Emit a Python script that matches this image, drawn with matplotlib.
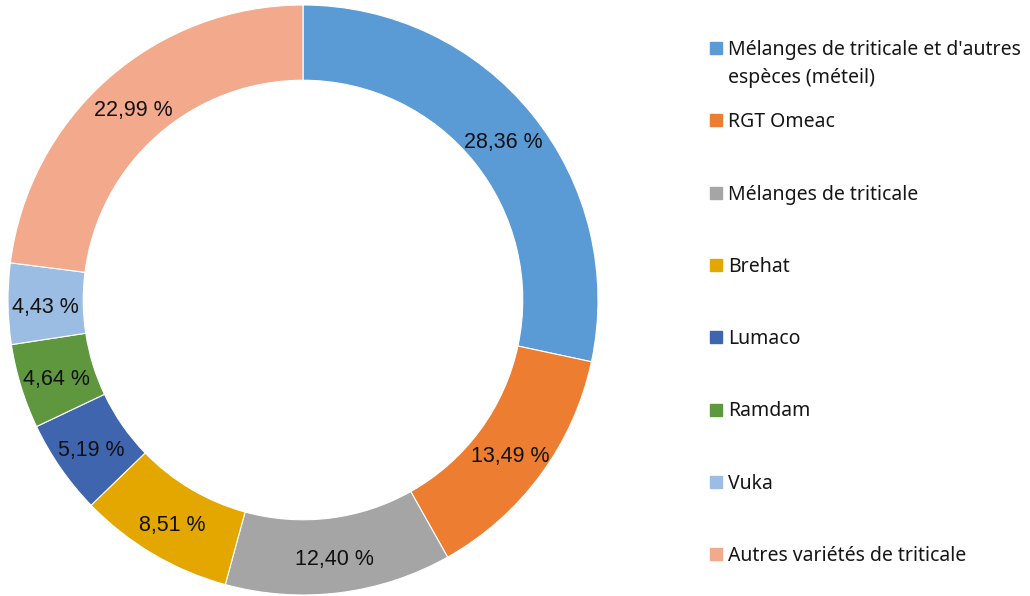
import numpy as np
import matplotlib
matplotlib.use("Agg")
import matplotlib.pyplot as plt
from matplotlib.patches import Rectangle
from matplotlib.transforms import offset_copy

# Donnees
categories = ["Mélanges de triticale et d'autres\nespèces (méteil)", "RGT Omeac",
              "Mélanges de triticale", "Brehat", "Lumaco", "Ramdam", "Vuka",
              "Autres variétés de triticale"]
values = [28.36, 13.49, 12.40, 8.51, 5.19, 4.64, 4.43, 22.99]
colors = ["#5B9BD5", "#ED7D31", "#A5A5A5", "#E3A700", "#3F65AE",
          "#5F973E", "#9BBDE3", "#F2A98C"]

plt.rcParams['font.family'] = ['Noto Sans', 'DejaVu Sans']

W, H = 1030, 596
fig = plt.figure(figsize=(W/100, H/100), dpi=100)

cx, cy, R = 303, 300, 295
ax = fig.add_axes([(cx-R)/W, (H-cy-R)/H, 2*R/W, 2*R/H])
width = 0.255
wedges, _ = ax.pie(values, colors=colors, startangle=90, counterclock=False,
                   radius=1, wedgeprops=dict(width=width, edgecolor='white', linewidth=0.8))
# etiquettes au milieu de l'anneau (decalees un peu vers le bas)
rlab = 1 - width/2
trans = offset_copy(ax.transData, fig=fig, x=0, y=-4, units='dots')
for w, v in zip(wedges, values):
    ang = np.deg2rad((w.theta1 + w.theta2)/2)
    txt = ("%.2f %%" % v).replace(".", ",")
    ax.text(rlab*np.cos(ang), rlab*np.sin(ang), txt, ha='center', va='center',
            fontsize=15.5, color='#111111', family='Liberation Sans', transform=trans)
ax.set_xlim(-1, 1)
ax.set_ylim(-1, 1)
ax.set_aspect('equal')
ax.axis('off')

# legende manuelle
lg = fig.add_axes([0, 0, 1, 1])
lg.set_xlim(0, W)
lg.set_ylim(H, 0)
lg.axis('off')
y0, dy = 48, 72.3
for i, (lab, c) in enumerate(zip(categories, colors)):
    y = y0 + i*dy
    lg.add_patch(Rectangle((710, y-6), 12, 12, color=c))
    lg.text(728, y - 8, lab, ha='left', va='top', fontsize=14,
            color='#161616', linespacing=1.5)

fig.savefig("out.png", dpi=100)
